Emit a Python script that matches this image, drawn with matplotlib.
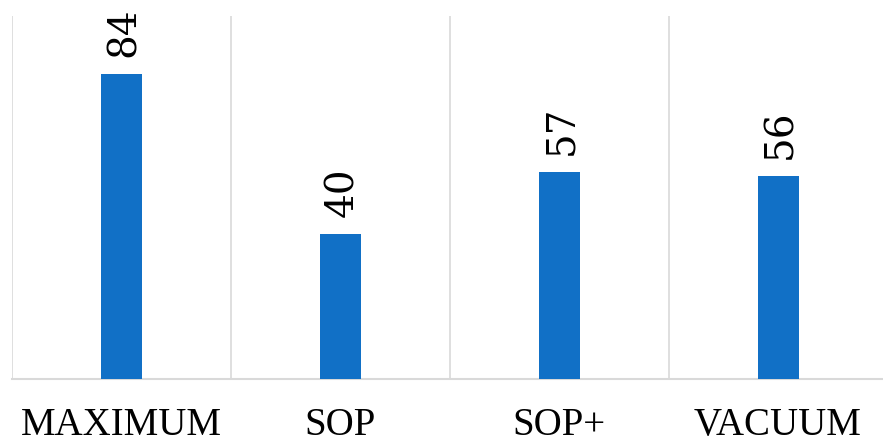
import matplotlib
matplotlib.use("Agg")
import matplotlib.pyplot as plt
import numpy as np

categories = ["MAXIMUM", "SOP", "SOP+", "VACUUM"]
values = [84, 40, 57, 56]

fig = plt.figure(figsize=(8.83, 4.46), dpi=100)
W, H = 883, 446
ax = fig.add_axes([12 / W, (H - 379) / H, (887.5 - 12) / W, (379 - 16) / H])

x = np.arange(len(categories))
bars = ax.bar(x, values, width=0.187, color="#1170C6", zorder=3)

ax.set_xlim(-0.5, len(categories) - 0.5)
ax.set_ylim(0, 100)

for xi, v in zip(x, values):
    ax.annotate(str(v), (xi, v), xytext=(2, 12), textcoords="offset points",
                rotation=90, ha="center", va="bottom",
                fontsize=28, family="DejaVu Serif", color="black")

ax.set_xticks(x)
ax.set_xticklabels(categories, fontsize=28, family="Liberation Serif")
ax.tick_params(axis="x", length=0, pad=20)
ax.set_xticks(np.arange(-0.5, len(categories), 1), minor=True)
ax.tick_params(axis="x", which="minor", length=0)
ax.grid(axis="x", which="minor", color="#D9D9D9", linewidth=1.2, zorder=0)
ax.grid(axis="x", which="major", visible=False)
ax.set_yticks([])

for s in ["top", "right", "left"]:
    ax.spines[s].set_visible(False)
ax.spines["bottom"].set_color("#D9D9D9")
ax.spines["bottom"].set_linewidth(1.5)

fig.savefig("out.png", dpi=100)
